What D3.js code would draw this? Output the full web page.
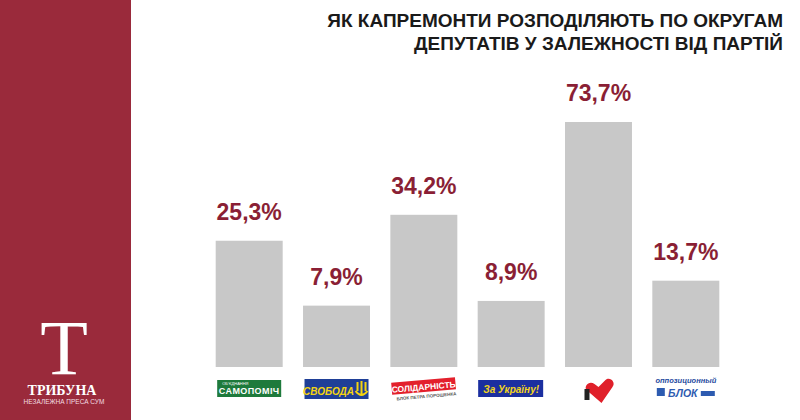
<!DOCTYPE html>
<html>
<head>
<meta charset="utf-8">
<script src="https://cdn.jsdelivr.net/npm/d3@7"></script>
<style>
  body { margin: 0; background: #fff; }
  svg { display: block; }
</style>
</head>
<body>
<script>
// Width and height
var w = 800;
var h = 420;

// data
var parties = ["Самопоміч", "Свобода", "Солідарність", "За Україну!", "Батьківщина", "Опозиційний блок"];
var values = [25.3, 7.9, 34.2, 8.9, 73.7, 13.7];
var valueLabels = ["25,3%", "7,9%", "34,2%", "8,9%", "73,7%", "13,7%"];
var titleLines = ["ЯК КАПРЕМОНТИ РОЗПОДІЛЯЮТЬ ПО ОКРУГАМ", "ДЕПУТАТІВ У ЗАЛЕЖНОСТІ ВІД ПАРТІЙ"];

var baseY = 367;
var red = "#8a1f35";

var svg = d3.select("body")
            .append("svg")
            .attr("width", w)
            .attr("height", h);

svg.append("rect")
  .attr("width", w).attr("height", h)
  .attr("fill", "#fff");

// left brand panel
svg.append("rect")
  .attr("x", 0).attr("y", 0)
  .attr("width", 131).attr("height", h)
  .attr("fill", "#9a2a3b");

svg.append("text")
  .text("T")
  .attr("x", 64).attr("y", 374)
  .attr("text-anchor", "middle")
  .attr("font-family", "'Liberation Serif', 'DejaVu Serif', serif")
  .attr("font-size", "78px")
  .attr("fill", "#fff");

svg.append("text")
  .text("ТРИБУНА")
  .attr("x", 62).attr("y", 395)
  .attr("text-anchor", "middle")
  .attr("font-family", "'Liberation Serif', serif")
  .attr("font-weight", "bold")
  .attr("font-size", "14px")
  .attr("fill", "#fff");

svg.append("text")
  .text("НЕЗАЛЕЖНА ПРЕСА СУМ")
  .attr("x", 64).attr("y", 404)
  .attr("text-anchor", "middle")
  .attr("font-family", "'Liberation Sans', sans-serif")
  .attr("font-size", "6.5px")
  .attr("fill", "#f3dde0");

// title
svg.selectAll(".title")
  .data(titleLines)
  .enter()
  .append("text")
  .attr("class", "title")
  .text(function(d) { return d; })
  .attr("x", 783)
  .attr("y", function(d, i) { return 27 + i * 23; })
  .attr("text-anchor", "end")
  .attr("font-family", "'Liberation Sans', Arial, sans-serif")
  .attr("font-weight", "bold")
  .attr("font-size", "19px")
  .attr("fill", "#1a1a1a");

// scales
var x = d3.scaleBand()
  .domain(parties)
  .range([215.7, 719.3])
  .paddingInner(0.233)
  .paddingOuter(0);

// bar heights in the original are compressed, not linear
var y = d3.scalePow()
  .exponent(0.62)
  .domain([0, 73.7])
  .range([baseY, baseY - 245]);

var dataset = parties.map(function(p, i) {
  return { key: p, value: values[i], label: valueLabels[i] };
});

svg.selectAll(".bar")
  .data(dataset)
  .enter()
  .append("rect")
  .attr("class", "bar")
  .attr("x", function(d) { return x(d.key); })
  .attr("y", function(d) { return y(d.value); })
  .attr("width", x.bandwidth())
  .attr("height", function(d) { return baseY - y(d.value); })
  .attr("fill", "#c8c8c8");

svg.selectAll(".val")
  .data(dataset)
  .enter()
  .append("text")
  .attr("class", "val")
  .text(function(d) { return d.label; })
  .attr("x", function(d) { return x(d.key) + x.bandwidth() / 2; })
  .attr("y", function(d) { return y(d.value) - 21; })
  .attr("text-anchor", "middle")
  .attr("font-family", "'Liberation Sans', Arial, sans-serif")
  .attr("font-weight", "bold")
  .attr("font-size", "23px")
  .attr("fill", red);

// party logos under the bars
var logos = svg.selectAll(".logo")
  .data(dataset)
  .enter()
  .append("g")
  .attr("class", "logo")
  .attr("transform", function(d) {
    return "translate(" + (x(d.key) + x.bandwidth() / 2) + ",389)";
  });

logos.each(function(d, i) {
  var g = d3.select(this);
  if (i === 0) {
    g.append("rect").attr("x", -32).attr("y", -9).attr("width", 64).attr("height", 17).attr("fill", "#1e7a3c");
    g.append("text").text("ОБ'ЄДНАННЯ").attr("x", -27).attr("y", -4)
      .attr("font-family", "'Liberation Sans', sans-serif").attr("font-size", "4px").attr("fill", "#fff");
    g.append("text").text("САМОПОМІЧ").attr("x", 0).attr("y", 5).attr("text-anchor", "middle")
      .attr("font-family", "'Liberation Sans', sans-serif").attr("font-weight", "bold")
      .attr("font-size", "9px").attr("letter-spacing", "0.4px").attr("fill", "#fff");
  } else if (i === 1) {
    g.append("rect").attr("x", -32).attr("y", -10).attr("width", 64).attr("height", 20).attr("fill", "#1f3f97");
    g.append("text").text("СВОБОДА").attr("x", -8).attr("y", 6).attr("text-anchor", "middle")
      .attr("font-family", "'Liberation Sans', sans-serif").attr("font-weight", "bold").attr("font-style", "italic")
      .attr("font-size", "10px").attr("fill", "#f5d410");
    g.append("path")
      .attr("d", "M21,-7 L21,2 M25,-8 L25,7 M29,-7 L29,2 M19,2 Q25,10 31,2")
      .attr("fill", "none").attr("stroke", "#f5d410").attr("stroke-width", 2);
  } else if (i === 2) {
    var s = g.append("g").attr("transform", "rotate(-5)");
    s.append("rect").attr("x", -32).attr("y", -9).attr("width", 64).attr("height", 12).attr("fill", "#e3202c");
    s.append("text").text("СОЛІДАРНІСТЬ").attr("x", 0).attr("y", 1).attr("text-anchor", "middle")
      .attr("font-family", "'Liberation Sans', sans-serif").attr("font-weight", "bold")
      .attr("font-size", "8.5px").attr("fill", "#fff");
    s.append("text").text("БЛОК ПЕТРА ПОРОШЕНКА").attr("x", 2).attr("y", 9).attr("text-anchor", "middle")
      .attr("font-family", "'Liberation Sans', sans-serif").attr("font-weight", "bold")
      .attr("font-size", "4.5px").attr("fill", "#555");
  } else if (i === 3) {
    g.append("rect").attr("x", -33).attr("y", -9).attr("width", 65).attr("height", 17).attr("fill", "#1b2fa0");
    g.append("text").text("За Україну!").attr("x", 0).attr("y", 4).attr("text-anchor", "middle")
      .attr("font-family", "'Liberation Sans', sans-serif").attr("font-weight", "bold").attr("font-style", "italic")
      .attr("font-size", "10px").attr("fill", "#f2d41c");
  } else if (i === 4) {
    g.append("path")
      .attr("d", "M3,14 L-12,1 C-15,-3 -9,-9 -4,-5 L0,-2 L7,-9 C11,-13 18,-7 14,-2 Z")
      .attr("fill", "#e0202a");
    g.append("rect").attr("x", -14).attr("y", 0).attr("width", 5).attr("height", 11).attr("fill", "#222");
  } else {
    g.append("text").text("оппозиционный").attr("x", 0).attr("y", -6).attr("text-anchor", "middle")
      .attr("font-family", "'Liberation Sans', sans-serif").attr("font-weight", "bold").attr("font-style", "italic")
      .attr("font-size", "7.5px").attr("fill", "#1f4a9e");
    g.append("rect").attr("x", -29).attr("y", -1).attr("width", 8).attr("height", 8).attr("fill", "#2d5bb0");
    g.append("rect").attr("x", 15).attr("y", 2).attr("width", 14).attr("height", 5).attr("fill", "#2d5bb0");
    g.append("text").text("БЛОК").attr("x", -3).attr("y", 8).attr("text-anchor", "middle")
      .attr("font-family", "'Liberation Sans', sans-serif").attr("font-weight", "bold").attr("font-style", "italic")
      .attr("font-size", "10.5px").attr("fill", "#2d5bb0");
  }
});
</script>
</body>
</html>
